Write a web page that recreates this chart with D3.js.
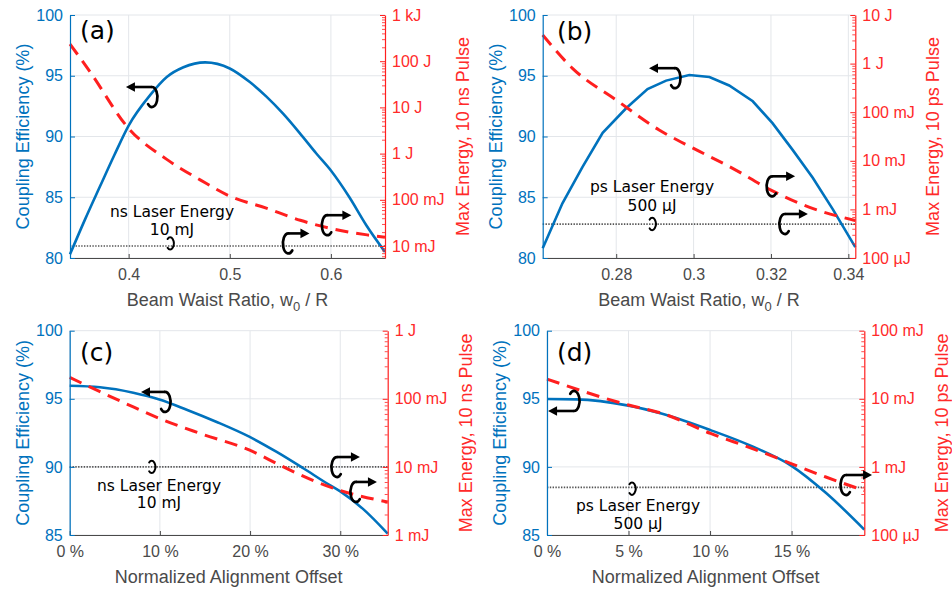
<!DOCTYPE html>
<html><head><meta charset="utf-8">
<script src="https://cdn.jsdelivr.net/npm/d3@7"></script>
<style>body{margin:0;background:#fff}svg{display:block}</style>
</head><body><svg id="chart" width="952" height="590"></svg>
<script>
// ---------------- DATA ----------------
// Panel (a): beam waist ratio, ns laser
const waistA = [0.342,0.357,0.3717,0.386,0.4,0.4212,0.4377,0.4542,0.4757,0.5,0.5195,0.536,0.5525,0.569,0.5856,0.6,0.6183,0.635,0.6535];
const couplingA = [80.3,83.2,85.9,88.5,90.9,93.4,94.9,95.7,96.1,95.6,94.5,93.3,91.9,90.3,88.6,87.2,85.0,82.7,80.5];
const energyWaistA = [0.342,0.3618,0.4,0.4377,0.4707,0.5,0.5361,0.5697,0.6,0.6358,0.6535];
const energyA = [235,59,3.5,0.75,0.27,0.12,0.066,0.036,0.024,0.0174,0.0155]; // J

// Panel (b): beam waist ratio, ps laser
const waistB = [0.261,0.2661,0.2713,0.2765,0.2825,0.2881,0.2929,0.2989,0.3041,0.3092,0.3153,0.3204,0.3256,0.3308,0.336,0.3418];
const couplingB = [80.8,84.5,87.5,90.3,92.3,93.9,94.6,95.06,94.9,94.2,92.9,91.1,88.9,86.6,84.0,80.9];
const energyWaistB = [0.261,0.2687,0.28,0.2911,0.3,0.3101,0.32,0.33,0.3418];
const energyB = [3.87,0.80,0.178,0.043,0.018,0.007,0.0025,0.0011,0.00059];

// Panel (c): alignment offset, ns laser
const offsetC = [0,0.0336,0.0705,0.0995,0.1297,0.163,0.1996,0.2295,0.259,0.285,0.3,0.3255,0.3526];
const couplingC = [95.96,95.85,95.45,94.95,94.2,93.3,92.2,91.1,89.9,88.8,88.2,86.9,85.1];
const energyOffsetC = [0,0.0336,0.0705,0.0995,0.1446,0.1996,0.237,0.274,0.3,0.3526];
const energyC = [0.206,0.127,0.076,0.0515,0.031,0.0176,0.010,0.006,0.0045,0.00306];

// Panel (d): alignment offset, ps laser
const offsetD = [0,0.0178,0.05,0.0707,0.1003,0.126,0.1497,0.171,0.1946];
const couplingD = [94.98,94.96,94.5,93.9,92.7,91.5,90.1,88.1,85.4];
const energyOffsetD = [0,0.05,0.0707,0.1003,0.126,0.1497,0.171,0.1946];
const energyD = [0.0195,0.0081,0.0061,0.0031,0.00186,0.00112,0.00071,0.00045];

// Laser energy levels (J)
const laserNs = 0.01;   // 10 mJ
const laserPs = 0.0005; // 500 µJ

// Tick values / labels
const xTicksA = [0.4,0.5,0.6], xLabelsA = ["0.4","0.5","0.6"];
const xTicksB = [0.28,0.3,0.32,0.34], xLabelsB = ["0.28","0.3","0.32","0.34"];
const xTicksC = [0,0.1,0.2,0.3], xLabelsC = ["0 %","10 %","20 %","30 %"];
const xTicksD = [0,0.05,0.1,0.15], xLabelsD = ["0 %","5 %","10 %","15 %"];
const yTicksAB = [80,85,90,95,100];
const yTicksCD = [85,90,95,100];
const rTicksA = [1e-2,1e-1,1,10,100,1000], rLabelsA = ["10 mJ","100 mJ","1 J","10 J","100 J","1 kJ"];
const rTicksB = [1e-4,1e-3,1e-2,1e-1,1,10], rLabelsB = ["100 µJ","1 mJ","10 mJ","100 mJ","1 J","10 J"];
const rTicksC = [1e-3,1e-2,1e-1,1], rLabelsC = ["1 mJ","10 mJ","100 mJ","1 J"];
const rTicksD = [1e-4,1e-3,1e-2,1e-1], rLabelsD = ["100 µJ","1 mJ","10 mJ","100 mJ"];

// ---------------- STYLE ----------------
const BLUE = "#0072BD", RED = "#ff1f1f", REDTXT = "#ff2a2a", GRAY = "#4a4a4a", GRID = "#e3e6ea";
const AXFONT = "'Liberation Sans', Arial, sans-serif";
const TXFONT = "'DejaVu Sans', Verdana, sans-serif";

const panels = [
  {tag:"(a)", left:70, right:385, top:15, bottom:258, xDomain:[0.342,0.6535], yDomain:[80,100], rDomain:[0.0055,1000],
   xs:waistA, ys:couplingA, exs:energyWaistA, eys:energyA, laser:laserNs, curve:d3.curveMonotoneX,
   xTicks:xTicksA, xLabels:xLabelsA, yTicks:yTicksAB, rTicks:rTicksA, rLabels:rLabelsA,
   xTitle:"w", rTitle:"Max Energy, 10 ns Pulse", txt:["ns Laser Energy","10 mJ"], txtPos:[172,217,235], tagPos:[80,39],
   ann:[{x:0.423,v:93.25,t:"L",len:26},{x:0.5965,v:82.7,t:"R",len:24},{x:0.558,v:81.2,t:"R",len:21},{x:0.441,v:81.2,t:"O"}]},
  {tag:"(b)", left:542.7, right:855.3, top:15, bottom:258, xDomain:[0.261,0.3418], yDomain:[80,100], rDomain:[1e-4,10],
   xs:waistB, ys:couplingB, exs:energyWaistB, eys:energyB, laser:laserPs, curve:d3.curveLinear,
   xTicks:xTicksB, xLabels:xLabelsB, yTicks:yTicksAB, rTicks:rTicksB, rLabels:rLabelsB,
   xTitle:"w", rTitle:"Max Energy, 10 ps Pulse", txt:["ps Laser Energy","500 µJ"], txtPos:[652,192,211], tagPos:[557,40],
   ann:[{x:0.2952,v:94.8,t:"L",len:26},{x:0.3203,v:85.9,t:"R",len:23},{x:0.3236,v:82.8,t:"R",len:23},{x:0.2893,v:82.8,t:"O"}]},
  {tag:"(c)", left:69.7, right:387.7, top:330.7, bottom:535, xDomain:[0,0.3526], yDomain:[85,100], rDomain:[1e-3,1],
   xs:offsetC, ys:couplingC, exs:energyOffsetC, eys:energyC, laser:laserNs, curve:d3.curveMonotoneX,
   xTicks:xTicksC, xLabels:xLabelsC, yTicks:yTicksCD, rTicks:rTicksC, rLabels:rLabelsC,
   xTitle:"Normalized Alignment Offset", rTitle:"Max Energy, 10 ns Pulse", txt:["ns Laser Energy","10 mJ"], txtPos:[159,490.5,507.5], tagPos:[80,361],
   ann:[{x:0.1057,v:94.77,t:"L",len:24},{x:0.2963,v:89.99,t:"R",len:23},{x:0.3174,v:88.16,t:"R",len:21},{x:0.0909,v:90,t:"O"}]},
  {tag:"(d)", left:547, right:864.3, top:330.7, bottom:535, xDomain:[0,0.1946], yDomain:[85,100], rDomain:[1e-4,0.1],
   xs:offsetD, ys:couplingD, exs:energyOffsetD, eys:energyD, laser:laserPs, curve:d3.curveMonotoneX,
   xTicks:xTicksD, xLabels:xLabelsD, yTicks:yTicksCD, rTicks:rTicksD, rLabels:rLabelsD,
   xTitle:"Normalized Alignment Offset", rTitle:"Max Energy, 10 ps Pulse", txt:["ps Laser Energy","500 µJ"], txtPos:[638,510.5,529], tagPos:[557,361],
   ann:[{x:0.0166,v:94.84,t:"LB",len:26},{x:0.1834,v:88.67,t:"R",len:26},{x:0.0521,v:88.4,t:"O"}]}
];

const svg = d3.select("#chart");

function minorTicks(domain) {
  const out = [];
  const lo = Math.floor(Math.log10(domain[0])), hi = Math.ceil(Math.log10(domain[1]));
  for (let k = lo; k < hi; k++) for (let m = 2; m <= 9; m++) {
    const v = m * Math.pow(10, k);
    if (v >= domain[0] && v <= domain[1]) out.push(v);
  }
  return out;
}

function arrowHead(g, tipX, y, dir) {
  const L = 9, h = 4.8;
  const bx = tipX - dir * L;
  g.append("path").attr("d", `M${tipX},${y}L${bx},${y - h}L${bx},${y + h}Z`).attr("fill", "#000");
}

function drawAnn(g, cx, cy, a) {
  const s = a.t === "O" ? {rx:3.6, ry:6.2} : {rx:5.5, ry:10};
  const {rx, ry} = s;
  const st = {stroke:"#000", "stroke-width": a.t === "O" ? 2 : 2.7, fill:"none", "stroke-linecap":"round"};
  const path = g.append("path");
  let d;
  if (a.t === "L") {
    d = `M${cx},${cy - ry}A${rx},${ry} 0 1 1 ${cx - rx * 0.7},${cy + ry * 0.71}`;
    g.append("line").attr("x1", cx).attr("y1", cy - ry).attr("x2", cx - a.len + 6).attr("y2", cy - ry)
      .attr("stroke", "#000").attr("stroke-width", 2.6);
    arrowHead(g, cx - a.len, cy - ry, -1);
  } else if (a.t === "R") {
    d = `M${cx},${cy - ry}A${rx},${ry} 0 1 0 ${cx + rx * 0.7},${cy + ry * 0.71}`;
    g.append("line").attr("x1", cx).attr("y1", cy - ry).attr("x2", cx + a.len - 6).attr("y2", cy - ry)
      .attr("stroke", "#000").attr("stroke-width", 2.6);
    arrowHead(g, cx + a.len, cy - ry, 1);
  } else if (a.t === "LB") {
    d = `M${cx},${cy + ry}A${rx},${ry} 0 1 0 ${cx - rx * 0.7},${cy - ry * 0.71}`;
    g.append("line").attr("x1", cx).attr("y1", cy + ry).attr("x2", cx - a.len + 6).attr("y2", cy + ry)
      .attr("stroke", "#000").attr("stroke-width", 2.6);
    arrowHead(g, cx - a.len, cy + ry, -1);
  } else {
    d = `M${cx - rx * 0.7},${cy - ry * 0.71}A${rx},${ry} 0 1 1 ${cx - rx * 0.7},${cy + ry * 0.71}`;
  }
  path.attr("d", d);
  Object.entries(st).forEach(([k, v]) => path.attr(k, v));
}

panels.forEach(p => {
  const g = svg.append("g");
  const x = d3.scaleLinear().domain(p.xDomain).range([p.left, p.right]);
  const yL = d3.scaleLinear().domain(p.yDomain).range([p.bottom, p.top]);
  const yR = d3.scaleLog().domain(p.rDomain).range([p.bottom, p.top]);

  // grid
  g.append("g").selectAll("line").data(p.xTicks).join("line")
    .attr("x1", d => x(d)).attr("x2", d => x(d)).attr("y1", p.top).attr("y2", p.bottom)
    .attr("stroke", GRID).attr("stroke-width", 1);
  g.append("g").selectAll("line").data(p.yTicks).join("line")
    .attr("x1", p.left).attr("x2", p.right).attr("y1", d => yL(d)).attr("y2", d => yL(d))
    .attr("stroke", GRID).attr("stroke-width", 1);

  // laser energy dotted level
  g.append("line").attr("x1", p.left).attr("x2", p.right)
    .attr("y1", yR(p.laser)).attr("y2", yR(p.laser))
    .attr("stroke", "#555").attr("stroke-width", 1.7).attr("stroke-dasharray", "1.4,1.4");

  // coupling efficiency (left axis)
  g.append("path").datum(d3.zip(p.xs, p.ys))
    .attr("d", d3.line().x(d => x(d[0])).y(d => yL(d[1])).curve(p.curve))
    .attr("fill", "none").attr("stroke", BLUE).attr("stroke-width", 2.6);

  // max energy (right axis, log)
  g.append("path").datum(d3.zip(p.exs, p.eys))
    .attr("d", d3.line().x(d => x(d[0])).y(d => yR(d[1])).curve(d3.curveMonotoneX))
    .attr("fill", "none").attr("stroke", RED).attr("stroke-width", 3).attr("stroke-dasharray", "13,8");

  // bottom axis
  const ax = g.append("g").attr("transform", `translate(0,${p.bottom})`)
    .call(d3.axisBottom(x).tickValues(p.xTicks).tickFormat((d, i) => p.xLabels[i]).tickSize(-4).tickSizeOuter(0).tickPadding(11));
  ax.select(".domain").attr("stroke", GRAY).attr("stroke-width", 1.2);
  ax.selectAll(".tick line").attr("stroke", GRAY);
  ax.selectAll("text").attr("fill", GRAY).attr("font-family", AXFONT).attr("font-size", 16);

  // left axis
  const al = g.append("g").attr("transform", `translate(${p.left},0)`)
    .call(d3.axisLeft(yL).tickValues(p.yTicks).tickSize(-5).tickSizeOuter(0).tickPadding(7));
  al.select(".domain").attr("stroke", BLUE).attr("stroke-width", 1.2);
  al.selectAll(".tick line").attr("stroke", BLUE);
  al.selectAll("text").attr("fill", BLUE).attr("font-family", AXFONT).attr("font-size", 16);

  // right axis
  const ar = g.append("g").attr("transform", `translate(${p.right},0)`)
    .call(d3.axisRight(yR).tickValues(p.rTicks).tickFormat((d, i) => p.rLabels[i]).tickSize(-5).tickSizeOuter(0).tickPadding(7));
  ar.select(".domain").attr("stroke", RED).attr("stroke-width", 1.2);
  ar.selectAll(".tick line").attr("stroke", RED);
  ar.selectAll("text").attr("fill", REDTXT).attr("font-family", AXFONT).attr("font-size", 16);
  const arm = g.append("g").attr("transform", `translate(${p.right},0)`)
    .call(d3.axisRight(yR).tickValues(minorTicks(p.rDomain)).tickFormat("").tickSize(-3).tickSizeOuter(0));
  arm.select(".domain").remove();
  arm.selectAll(".tick line").attr("stroke", RED).attr("stroke-width", 0.8);

  // axis titles
  const midY = (p.top + p.bottom) / 2, midX = (p.left + p.right) / 2;
  g.append("text").attr("transform", `translate(${p.left - 41},${midY}) rotate(-90)`)
    .attr("text-anchor", "middle").attr("font-family", AXFONT).attr("font-size", 18).attr("fill", BLUE)
    .text("Coupling Efficiency (%)");
  g.append("text").attr("transform", `translate(${p.right + 84},${midY}) rotate(-90)`)
    .attr("text-anchor", "middle").attr("font-family", AXFONT).attr("font-size", 18).attr("fill", REDTXT)
    .text(p.rTitle);
  const xt = g.append("text").attr("x", midX).attr("y", p.bottom + 47.5).attr("text-anchor", "middle")
    .attr("font-family", AXFONT).attr("font-size", 18).attr("fill", GRAY);
  if (p.xTitle === "w") {
    xt.append("tspan").text("Beam Waist Ratio, w");
    xt.append("tspan").attr("font-size", 13).attr("dy", 5).text("0");
    xt.append("tspan").attr("dy", -5).text(" / R");
  } else {
    xt.text(p.xTitle);
  }

  // panel tag
  g.append("text").attr("x", p.tagPos[0]).attr("y", p.tagPos[1]).attr("font-family", TXFONT)
    .attr("font-size", 25).attr("fill", "#000").text(p.tag);

  // laser energy text
  g.append("text").attr("x", p.txtPos[0]).attr("y", p.txtPos[1]).attr("text-anchor", "middle")
    .attr("font-family", TXFONT).attr("font-size", 15.5).attr("fill", "#000").text(p.txt[0]);
  g.append("text").attr("x", p.txtPos[0]).attr("y", p.txtPos[2]).attr("text-anchor", "middle")
    .attr("font-family", TXFONT).attr("font-size", 15.5).attr("fill", "#000").text(p.txt[1]);

  // curly arrow annotations
  const ga = g.append("g");
  p.ann.forEach(a => drawAnn(ga, x(a.x), yL(a.v), a));
});
</script>
</body></html>
